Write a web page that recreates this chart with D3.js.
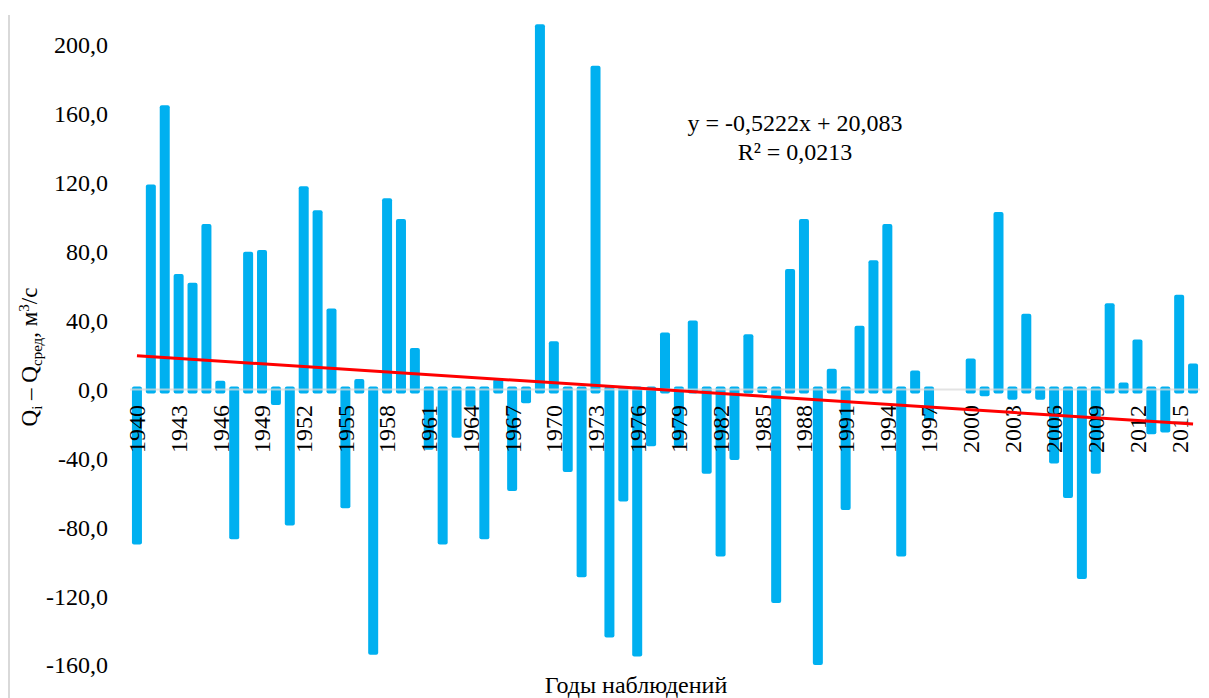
<!DOCTYPE html>
<html>
<head>
<meta charset="utf-8">
<script src="https://cdn.jsdelivr.net/npm/d3@7"></script>
<style>
  body { margin: 0; background: #fff; }
  text { font-family: "Liberation Serif", "Times New Roman", serif; fill: #000; }
</style>
</head>
<body>
<div id="chart"></div>
<script>
// years of observation
var years = d3.range(1940, 2017);
// Qi - Qсред, м3/с (null = no bar)
var deviations = [
  -90, 119, 165, 67, 62, 96, 5, -87, 80, 81,
  -9, -79, 118, 104, 47, -69, 6, -154, 111, 99,
  24, -35, -90, -28, -10, -87, 6, -59, -8, 212,
  28, -48, -109, 188, -144, -65, -155, -33, 33, -33,
  40, -49, -97, -41, 32, -2, -124, 70, 99, -166,
  12, -70, 37, 75, 96, -97, 11, -18, null, null,
  18, -4, 103, -6, 44, -6, -43, -63, -110, -49,
  50, 4, 29, -26, -25, 55, 15
];
var yTicks = [200, 160, 120, 80, 40, 0, -40, -80, -120, -160];
var yearLabels = years.filter(function(y) { return (y - 1940) % 3 === 0; });
// linear trend shown on the chart
var trendSlope = -0.5222;
var trendIntercept = 20.083;
var trendText = ["y = -0,5222x + 20,083", "R\u00B2 = 0,0213"];

var width = 1209, height = 698;

var svg = d3.select("#chart").append("svg")
  .attr("width", width)
  .attr("height", height);

// chart area border (left edge only visible)
svg.append("line")
  .attr("x1", 9).attr("x2", 9)
  .attr("y1", 15).attr("y2", height)
  .attr("stroke", "#d9d9d9")
  .attr("stroke-width", 2);

var x = d3.scaleBand()
  .domain(years)
  .range([130, 1200])
  .paddingInner(0.28)
  .paddingOuter(0.14);

var y = d3.scaleLinear()
  .domain([-160, 200])
  .range([665, 45]);

var fmt = function(v) { return d3.format(".1f")(v).replace(".", ",").replace("\u2212", "-"); };

// y tick labels
svg.append("g").selectAll("text")
  .data(yTicks)
  .enter()
  .append("text")
  .attr("x", 108)
  .attr("y", function(d) { return y(d); })
  .attr("dy", "0.35em")
  .attr("text-anchor", "end")
  .style("font-size", "24px")
  .text(fmt);

var data = years.map(function(yr, i) { return {year: yr, value: deviations[i]}; })
  .filter(function(d) { return d.value !== null; });

var y0 = y(0);
var yMin = y(-160);

// bars
svg.append("g").selectAll("rect")
  .data(data)
  .enter()
  .append("rect")
  .attr("x", function(d) { return x(d.year); })
  .attr("width", x.bandwidth())
  .attr("y", function(d) { return d.value >= 0 ? y(d.value) : y0 - 3; })
  .attr("height", function(d) {
    if (d.value >= 0) return y0 + 4 - y(d.value);
    return Math.min(y(d.value), yMin) - (y0 - 3);
  })
  .attr("rx", 2)
  .attr("fill", "#00B0F0");

// zero line
svg.append("line")
  .attr("x1", 130).attr("x2", 1200)
  .attr("y1", y0).attr("y2", y0)
  .attr("stroke", "#d9d9d9")
  .attr("stroke-opacity", 0.75)
  .attr("stroke-width", 2);

// year labels
svg.append("g").selectAll("text")
  .data(yearLabels)
  .enter()
  .append("text")
  .attr("transform", function(d) {
    return "translate(" + (x(d) + x.bandwidth() / 2) + ",405) rotate(-90)";
  })
  .attr("dy", "0.35em")
  .attr("text-anchor", "end")
  .style("font-size", "24px")
  .text(function(d) { return d; });

// trend line
var firstYear = years[0], lastYear = years[years.length - 1];
svg.append("line")
  .attr("x1", x(firstYear) + x.bandwidth() / 2)
  .attr("y1", y(trendSlope * 1 + trendIntercept))
  .attr("x2", x(lastYear) + x.bandwidth() / 2)
  .attr("y2", y(trendSlope * years.length + trendIntercept))
  .attr("stroke", "#FF0000")
  .attr("stroke-width", 3);

// trend equation
svg.append("g").selectAll("text")
  .data(trendText)
  .enter()
  .append("text")
  .attr("x", 795)
  .attr("y", function(d, i) { return 131 + i * 29; })
  .attr("text-anchor", "middle")
  .style("font-size", "24px")
  .text(function(d) { return d; });

// axis titles
svg.append("text")
  .attr("x", 636)
  .attr("y", 693)
  .attr("text-anchor", "middle")
  .style("font-size", "24px")
  .text("Годы наблюдений");

var yTitle = svg.append("text")
  .attr("transform", "translate(37,357) rotate(-90)")
  .attr("text-anchor", "middle")
  .style("font-size", "23px");
yTitle.append("tspan").text("Q");
yTitle.append("tspan").attr("dy", "5").style("font-size", "15px").text("i");
yTitle.append("tspan").attr("dy", "-5").text(" \u2013 Q");
yTitle.append("tspan").attr("dy", "5").style("font-size", "15px").text("сред");
yTitle.append("tspan").attr("dy", "-5").text(", м");
yTitle.append("tspan").attr("dy", "-8").style("font-size", "15px").text("3");
yTitle.append("tspan").attr("dy", "8").text("/с");
</script>
</body>
</html>
